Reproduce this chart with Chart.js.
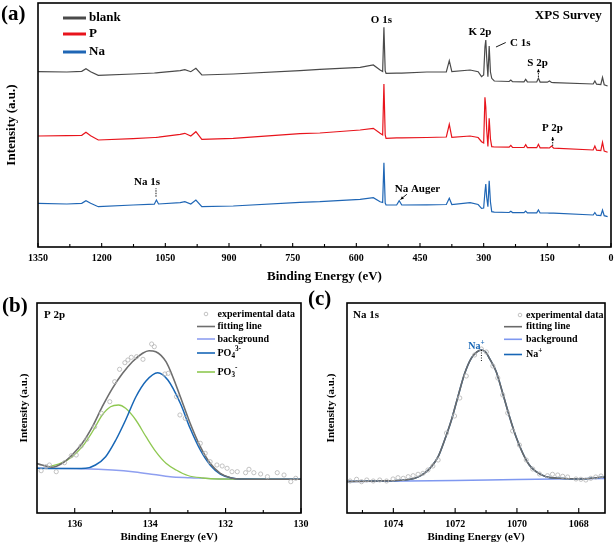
<!DOCTYPE html>
<html>
<head>
<meta charset="utf-8">
<script src="https://cdn.jsdelivr.net/npm/chart.js@4.4.1/dist/chart.umd.min.js"></script>
<style>
body { margin: 0; background: #fff; }
#wrap { position: relative; width: 614px; height: 546px; }
canvas { position: absolute; }
#surveyChart { left: 0; top: 0; }
#pChart { left: 0; top: 290px; }
#naChart { left: 307px; top: 290px; }
</style>
</head>
<body>
<div id="wrap">
  <canvas id="surveyChart" width="614" height="290"></canvas>
  <canvas id="pChart" width="320" height="256"></canvas>
  <canvas id="naChart" width="307" height="256"></canvas>
</div>
<script>
// ---------- (a) XPS survey ----------
const surveyE = [1350, 1282, 1247, 1237, 1226, 1208, 1126, 1076, 1071, 1066,
  1015, 1004, 990, 978, 964, 890, 733, 686, 591, 560,
  544, 538, 535, 532, 530, 505, 499, 493, 434, 388,
  381, 375, 332, 313, 305, 300, 297, 295, 293, 290,
  287, 284, 281, 275, 240, 236, 232, 205, 201, 197,
  175, 171, 167, 150, 145, 140, 135, 42, 38, 34,
  24, 20, 16, 8];
const blankI = [175.3, 175, 175.7, 178.3, 175.3, 171.7, 173, 174, 174.2, 174.4,
  176.3, 177.3, 175.3, 178.7, 172, 173, 176.3, 177.7, 179.7, 182,
  177, 175.5, 219.7, 176, 173.7, 173.8, 173.8, 173.9, 175, 175,
  186.3, 175.3, 177, 175.3, 170.3, 172, 200, 207, 190, 170.3,
  201, 175, 168.7, 166, 165.5, 167, 165.4, 165.2, 167.7, 165.1,
  165, 168.7, 164.9, 164.8, 166, 164.5, 164.4, 163, 166, 162.8,
  162.5, 169.7, 162.3, 161];
const pI = [111, 111.3, 111.7, 114.7, 111.3, 107, 108.3, 109.5, 109.6, 109.8,
  112.7, 113.7, 111, 115.3, 107.7, 108.7, 113.3, 114, 117, 118.7,
  113.7, 112, 163, 112, 108.7, 109.2, 109.2, 109.2, 109.5, 110,
  122.7, 109.7, 111, 109.5, 105.3, 104, 149.7, 140, 118, 100.5,
  128.7, 108, 100.3, 100, 99.8, 101.7, 99.7, 99.5, 102.3, 99.4,
  99.3, 102.7, 99.2, 99.1, 99, 101, 98.9, 97, 101, 96.8,
  96.5, 104.7, 96, 94.7];
const naI = [43.7, 43, 43.7, 46.3, 43.7, 40.3, 42, 42.8, 47, 43,
  44.3, 45.3, 43, 47, 40.3, 41, 44.7, 45.3, 47.7, 49.3,
  45.3, 44.5, 84.3, 44, 42, 42, 46.3, 42, 42.2, 42.5,
  48.7, 42.5, 44.3, 42.5, 38.7, 39, 55, 63, 50, 40.3,
  66.3, 45, 35.3, 34.8, 34.5, 35.7, 34.4, 34.3, 36, 34.2,
  34.1, 37, 34, 34, 33.9, 33.9, 33.8, 32, 34.5, 31.8,
  31.5, 37, 31.3, 30.3];
const surveyNames = ['blank', 'P', 'Na'];
const surveyMajor = [1350, 1200, 1050, 900, 750, 600, 450, 300, 150, 0];
const surveyMinor = [1275, 1125, 975, 825, 675, 525, 375, 225, 75];

// ---------- (b) P 2p ----------
const pExpE = [136.89, 136.76, 136.67, 136.49, 136.27, 136.09, 135.96, 135.83, 135.68, 135.47,
  135.29, 135.07, 134.94, 134.81, 134.67, 134.59, 134.5, 134.36, 134.19, 133.96,
  133.89, 133.61, 133.52, 133.3, 133.21, 133.07, 132.67, 132.54, 132.41, 132.23,
  132.09, 131.96, 131.83, 131.69, 131.47, 131.38, 131.25, 131.07, 130.89, 130.63,
  130.45, 130.27, 130.14];
const pExpI = [42.3, 46.3, 48, 41.3, 50.3, 57.3, 58, 67, 73.7, 86.3,
  99.7, 111.3, 131.3, 143.7, 150.3, 153, 155.7, 156.3, 153.7, 169,
  166.3, 139, 139.7, 116.3, 98, 94.7, 69.7, 59.7, 51.3, 48,
  47, 44.7, 41.3, 41.3, 40.3, 43.7, 40.3, 39, 36.3, 40.3,
  38, 31.3, 34.7];
const pFitE = [137.02, 136.87, 136.6, 136.33, 136.07, 135.8, 135.53, 135.27, 135.0, 134.73,
  134.47, 134.2, 134.03, 133.85, 133.58, 133.4, 133.2, 132.94, 132.67, 132.41,
  132.14, 131.87, 131.61, 131.0, 130.0];
const pFitI = [49.7, 48, 45.7, 49.7, 58, 69.7, 86.3, 106.3, 124.7, 139.7,
  151.3, 159.7, 162.3, 161.3, 151.3, 136.3, 116.3, 89.7, 66.3, 49.7,
  39.7, 35.3, 34, 33.8, 33.7];
const pBgE = [137.02, 135.8, 135.0, 134.4, 133.9, 133.47, 132.94, 132.14, 130.0];
const pBgI = [44.7, 44.3, 43, 41, 38.5, 36.3, 35.3, 34, 33.7];
const po4E = [137.02, 136.0, 135.71, 135.45, 135.18, 134.91, 134.65, 134.38, 134.11, 133.8,
  133.53, 133.2, 132.94, 132.67, 132.41, 132.14, 131.87, 131.5, 130.0];
const po4I = [44.7, 44.5, 44.7, 48, 56.3, 73, 93, 116, 132, 140.3,
  133, 109.7, 84.7, 63, 48, 39, 35.3, 34, 33.7];
const po3E = [136.7, 136.33, 136.07, 135.8, 135.53, 135.27, 135.05, 134.84, 134.65, 134.38,
  134.11, 133.85, 133.58, 133.31, 133.0, 132.6, 132.2, 130.0];
const po3I = [46, 50.3, 56.3, 66.3, 81.3, 98, 106.3, 108, 104.7, 93,
  76.3, 61.3, 49.7, 43, 37.5, 35, 34, 33.7];
const pMajor = [136, 134, 132, 130];
const pMinor = [135, 133, 131];

// ---------- (c) Na 1s ----------
const naExpE = [1075.4, 1075.19, 1075.03, 1074.86, 1074.65, 1074.44, 1074.22, 1074.01, 1073.85, 1073.68,
  1073.52, 1073.36, 1073.2, 1073.04, 1072.88, 1072.72, 1072.55, 1072.28, 1072.02, 1071.85,
  1071.64, 1071.37, 1071.15, 1070.99, 1070.78, 1070.62, 1070.46, 1070.3, 1070.14, 1069.92,
  1069.7, 1069.49, 1069.27, 1069.01, 1068.85, 1068.68, 1068.52, 1068.36, 1068.09, 1067.93,
  1067.77, 1067.61, 1067.45, 1067.28];
const naExpI = [32, 33.7, 31.3, 33, 32, 33, 32, 34, 35.3, 34.7,
  36.3, 37.3, 38.7, 39.7, 43, 47, 53, 80, 97, 115,
  137, 158, 164, 161, 147, 135, 118, 100, 82, 68,
  53, 44, 39, 37.3, 38.7, 38, 36.7, 36, 34, 33.7,
  33, 34.7, 36, 37];
const naFitE = [1075.5, 1074.5, 1073.4, 1073.0, 1072.77, 1072.55, 1072.34, 1072.12, 1071.91, 1071.69,
  1071.48, 1071.3, 1071.15, 1071.0, 1070.89, 1070.67, 1070.46, 1070.24, 1070.03, 1069.81,
  1069.6, 1069.38, 1069.06, 1068.63, 1067.98, 1067.15];
const naFitI = [31.5, 32, 34, 39.7, 46.3, 56.3, 73, 93, 116.3, 139.7,
  154.7, 161, 163, 160.5, 154.7, 141.3, 119.7, 96.3, 76.3, 59.7,
  48, 41.3, 36.3, 34.7, 34, 36];
const naBgE = [1075.5, 1072, 1070, 1067.15];
const naBgI = [31.5, 32.5, 33.5, 34.5];
const naMajor = [1074, 1072, 1070, 1068];
const naMinor = [1075, 1073, 1071, 1069];

const SERIF = '"Liberation Serif", "Times New Roman", serif';
Chart.defaults.font.family = SERIF;
Chart.defaults.color = '#000';

const pts = (xs, ys) => xs.map((x, i) => ({x: x, y: ys[i]}));

// bold serif text with optional sub/superscript parts
function drawRich(ctx, parts, x, y, size, color, align) {
  const f = s => 'bold ' + s + 'px ' + SERIF;
  let w = 0;
  parts.forEach(p => { ctx.font = f(p[1] ? size * 0.72 : size); w += ctx.measureText(p[0]).width; });
  let cx = align === 'center' ? x - w / 2 : (align === 'right' ? x - w : x);
  ctx.fillStyle = color;
  ctx.textBaseline = 'middle';
  ctx.textAlign = 'left';
  parts.forEach(p => {
    ctx.font = f(p[1] ? size * 0.72 : size);
    const dy = p[1] === 'sub' ? size * 0.3 : (p[1] === 'sup' ? -size * 0.38 : 0);
    ctx.fillText(p[0], cx, y + dy);
    cx += ctx.measureText(p[0]).width;
  });
}

function arrowHead(ctx, x1, y1, x2, y2, size) {
  const ang = Math.atan2(y2 - y1, x2 - x1);
  ctx.beginPath();
  ctx.moveTo(x2, y2);
  ctx.lineTo(x2 - size * Math.cos(ang - 0.45), y2 - size * Math.sin(ang - 0.45));
  ctx.lineTo(x2 - size * Math.cos(ang + 0.45), y2 - size * Math.sin(ang + 0.45));
  ctx.closePath();
  ctx.fill();
}

// frame, inward ticks, notes, legend, panel label
function decor(cfg) {
  return {
    id: 'decor',
    afterDraw(chart) {
      const ctx = chart.ctx, a = chart.chartArea;
      const xs = chart.scales.x, ys = chart.scales.y;
      const X = v => xs.getPixelForValue(v), Y = v => ys.getPixelForValue(v);
      ctx.save();
      ctx.strokeStyle = '#000';
      ctx.lineWidth = cfg.frame;
      ctx.strokeRect(a.left, a.top, a.right - a.left, a.bottom - a.top);
      ctx.lineWidth = 1.1;
      xs.ticks.forEach(t => {
        const px = X(t.value);
        const len = cfg.major.includes(t.value) ? cfg.tickLen[0] : cfg.tickLen[1];
        ctx.beginPath();
        ctx.moveTo(px, a.bottom);
        ctx.lineTo(px, a.bottom - len);
        ctx.stroke();
      });
      (cfg.lines || []).forEach(l => {
        const x1 = X(l.from[0]), y1 = Y(l.from[1]), x2 = X(l.to[0]), y2 = Y(l.to[1]);
        ctx.strokeStyle = l.color || '#000';
        ctx.fillStyle = l.color || '#000';
        ctx.lineWidth = 0.9;
        ctx.setLineDash(l.dash || []);
        ctx.beginPath();
        ctx.moveTo(x1, y1);
        ctx.lineTo(x2, y2);
        ctx.stroke();
        ctx.setLineDash([]);
        if (l.head) arrowHead(ctx, x1, y1, x2, y2, 3.5);
      });
      (cfg.notes || []).forEach(n => {
        drawRich(ctx, n.parts, X(n.at[0]), Y(n.at[1]), n.size, n.color || '#000', n.align || 'center');
      });
      (cfg.inner || []).forEach(n => {
        drawRich(ctx, n.parts, n.x, n.y, n.size, '#000', 'left');
      });
      const lg = cfg.legend;
      lg.rows.forEach(r => {
        if (r.dot) {
          ctx.strokeStyle = r.color;
          ctx.lineWidth = 0.8;
          ctx.beginPath();
          ctx.arc(lg.dotX, r.y, 1.8, 0, Math.PI * 2);
          ctx.stroke();
        } else {
          ctx.strokeStyle = r.color;
          ctx.lineWidth = lg.lineW;
          ctx.beginPath();
          ctx.moveTo(lg.line[0], r.y);
          ctx.lineTo(lg.line[1], r.y);
          ctx.stroke();
        }
        drawRich(ctx, r.parts, lg.textX, r.y, lg.size, '#000', 'left');
      });
      drawRich(ctx, [[cfg.panel.text]], cfg.panel.x, cfg.panel.y, 21, '#000', 'left');
      ctx.restore();
    }
  };
}

function xAxis(min, max, major, minor, tickSize, titleSize, titlePad, height) {
  return {
    type: 'linear', reverse: true, min: min, max: max,
    afterBuildTicks: s => { s.ticks = major.concat(minor).map(v => ({value: v})); },
    afterFit: s => { s.height = height; s.paddingLeft = 0; s.paddingRight = 0; },
    grid: {display: false, drawTicks: false},
    border: {display: false},
    ticks: {
      autoSkip: false, maxRotation: 0, padding: 5, color: '#000',
      font: {family: SERIF, size: tickSize, weight: 'bold'},
      callback: v => major.includes(v) ? String(v) : ''
    },
    title: {
      display: true, text: 'Binding Energy (eV)', color: '#000',
      font: {family: SERIF, size: titleSize, weight: 'bold'},
      padding: {top: 0, bottom: titlePad}
    }
  };
}

function yAxis(max, width, titleSize, titlePad) {
  return {
    type: 'linear', min: 0, max: max,
    afterFit: s => { s.width = width; },
    grid: {display: false, drawTicks: false},
    border: {display: false},
    ticks: {display: false},
    title: {
      display: true, text: 'Intensity (a.u.)', color: '#000',
      font: {family: SERIF, size: titleSize, weight: 'bold'},
      padding: {top: titlePad, bottom: 0}
    }
  };
}

const lineSet = (label, data, color, width, smooth) => ({
  label: label, data: data, showLine: true, pointRadius: 0, borderColor: color,
  borderWidth: width, fill: false,
  cubicInterpolationMode: smooth ? 'monotone' : 'default', tension: 0
});
const dotSet = (label, data) => ({
  label: label, data: data, showLine: false, pointRadius: 2.1, pointBorderWidth: 0.8,
  pointBorderColor: '#b4b4b4', pointBackgroundColor: 'rgba(0,0,0,0)'
});

const baseOpts = {
  responsive: false, animation: false, events: [],
  plugins: {legend: {display: false}, tooltip: {enabled: false}}
};

// (a) survey
const surveyColors = ['#4a4a4a', '#e8141c', '#1f66b5'];
const surveyCtx = document.getElementById('surveyChart').getContext('2d');
const surveyChart = new Chart(surveyCtx, {
  type: 'scatter',
  data: {
    datasets: [
      lineSet(surveyNames[0], pts(surveyE, blankI), surveyColors[0], 1.2, false),
      lineSet(surveyNames[1], pts(surveyE, pI), surveyColors[1], 1.2, false),
      lineSet(surveyNames[2], pts(surveyE, naI), surveyColors[2], 1.2, false)
    ]
  },
  options: Object.assign({}, baseOpts, {
    layout: {padding: {left: 0, right: 3, top: 3, bottom: 0}},
    scales: {
      x: xAxis(0, 1350, surveyMajor, surveyMinor, 10, 13, 6, 43),
      y: yAxis(244, 38, 13, 4)
    }
  }),
  plugins: [decor({
    frame: 1.6, major: surveyMajor, tickLen: [4, 3],
    notes: [
      {parts: [['O 1s']], at: [541, 227], size: 11},
      {parts: [['K 2p']], at: [309, 215], size: 11},
      {parts: [['C 1s']], at: [214, 204], size: 11},
      {parts: [['S 2p']], at: [173, 184], size: 11},
      {parts: [['P 2p']], at: [138, 118.7], size: 11},
      {parts: [['XPS Survey']], at: [22, 231], size: 13, align: 'right'},
      {parts: [['Na 1s']], at: [1093, 65.3], size: 11},
      {parts: [['Na Auger']], at: [456, 57.7], size: 11}
    ],
    lines: [
      {from: [271, 200], to: [248, 204.5]},
      {from: [171, 170], to: [171, 178], dash: [1.5, 1], head: true},
      {from: [137.4, 101], to: [137.4, 110], dash: [1.5, 1], head: true},
      {from: [1072, 50.3], to: [1072, 58.7], dash: [1.5, 1]},
      {from: [481, 52.7], to: [496, 47.5], head: true}
    ],
    legend: {
      line: [63, 86], textX: 89, size: 13, lineW: 3,
      rows: [
        {parts: [[surveyNames[0]]], y: 18, color: surveyColors[0]},
        {parts: [[surveyNames[1]]], y: 34, color: surveyColors[1]},
        {parts: [[surveyNames[2]]], y: 52, color: surveyColors[2]}
      ]
    },
    panel: {text: '(a)', x: 1, y: 15}
  })]
});

// (b) P 2p fitting
const pColors = {fit: '#6e6e6e', bg: '#8e9ff0', po4: '#1766b6', po3: '#8fc852'};
const pCtx = document.getElementById('pChart').getContext('2d');
const pChart = new Chart(pCtx, {
  type: 'scatter',
  data: {
    datasets: [
      dotSet('experimental data', pts(pExpE, pExpI)),
      lineSet('fitting line', pts(pFitE, pFitI), pColors.fit, 1.6, true),
      lineSet('PO4', pts(po4E, po4I), pColors.po4, 1.5, true),
      lineSet('PO3', pts(po3E, po3I), pColors.po3, 1.3, true),
      lineSet('background', pts(pBgE, pBgI), pColors.bg, 1.4, true)
    ]
  },
  options: Object.assign({}, baseOpts, {
    layout: {padding: {left: 0, right: 19, top: 13, bottom: 0}},
    scales: {
      x: xAxis(130, 137, pMajor, pMinor, 10, 11, 2, 33),
      y: yAxis(210, 37, 11, 18)
    }
  }),
  plugins: [decor({
    frame: 1.6, major: pMajor, tickLen: [5, 3],
    inner: [{parts: [['P 2p']], x: 44, y: 25, size: 11}],
    legend: {
      line: [197, 215], dotX: 206, textX: 217.5, size: 10, lineW: 1.6,
      rows: [
        {parts: [['experimental data']], y: 24, color: '#b4b4b4', dot: true},
        {parts: [['fitting line']], y: 36.5, color: pColors.fit},
        {parts: [['background']], y: 49, color: pColors.bg},
        {parts: [['PO'], ['4', 'sub'], ['3-', 'sup']], y: 63, color: pColors.po4},
        {parts: [['PO'], ['3', 'sub'], ['-', 'sup']], y: 82, color: pColors.po3}
      ]
    },
    panel: {text: '(b)', x: 2, y: 17}
  })]
});

// (c) Na 1s fitting
const naColors = {fit: '#6a6a6a', bg: '#7f98f0', na: '#1766b6'};
const naCtx = document.getElementById('naChart').getContext('2d');
const naChart = new Chart(naCtx, {
  type: 'scatter',
  data: {
    datasets: [
      dotSet('experimental data', pts(naExpE, naExpI)),
      lineSet('fitting line', pts(naFitE, naFitI), naColors.fit, 1.6, true),
      lineSet('Na+', pts(naFitE, naFitI), naColors.na, 1.5, true),
      lineSet('background', pts(naBgE, naBgI), naColors.bg, 1.4, true)
    ]
  },
  options: Object.assign({}, baseOpts, {
    layout: {padding: {left: 0, right: 9, top: 13, bottom: 0}},
    scales: {
      x: xAxis(1067.15, 1075.5, naMajor, naMinor, 10, 11, 2, 33),
      y: yAxis(210, 40, 11, 18)
    }
  }),
  plugins: [decor({
    frame: 1.6, major: naMajor, tickLen: [5, 3],
    inner: [{parts: [['Na 1s']], x: 46, y: 25, size: 11}],
    notes: [{parts: [['Na'], ['+', 'sup']], at: [1071.31, 166.5], size: 10, color: '#1766b6'}],
    lines: [{from: [1071.15, 163], to: [1071.15, 151.3], dash: [1, 1.5]}],
    legend: {
      line: [197, 215], dotX: 213, textX: 219, size: 10, lineW: 1.6,
      rows: [
        {parts: [['experimental data']], y: 25, color: '#b4b4b4', dot: true},
        {parts: [['fitting line']], y: 36.7, color: naColors.fit},
        {parts: [['background']], y: 49.3, color: naColors.bg},
        {parts: [['Na'], ['+', 'sup']], y: 64.5, color: naColors.na}
      ]
    },
    panel: {text: '(c)', x: 1, y: 10}
  })]
});
</script>
</body>
</html>
